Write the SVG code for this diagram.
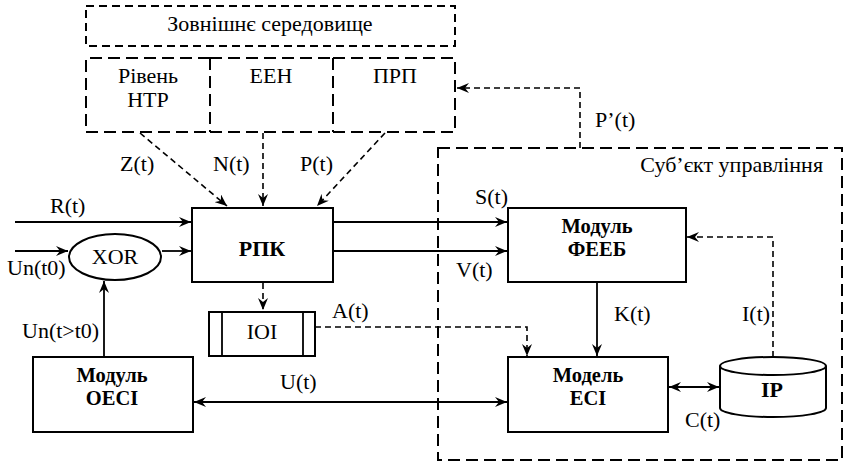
<svg xmlns="http://www.w3.org/2000/svg" width="846" height="463" viewBox="0 0 846 463">
<style>
text{font-family:"Liberation Serif","Times New Roman",serif;font-size:22px;fill:#000;}
.b{font-weight:bold;}
.b2{font-weight:bold;font-size:20.5px;}
.box{fill:#fff;stroke:#000;stroke-width:2;}
.dbox{fill:none;stroke:#000;stroke-width:2;stroke-dasharray:12,6;}
.sbox{fill:none;stroke:#000;stroke-width:2;stroke-dasharray:8,5;}
.ln{fill:none;stroke:#000;stroke-width:1.8;}
.dl{fill:none;stroke:#000;stroke-width:1.6;stroke-dasharray:6,4;}
</style>
<defs>
<marker id="ah" viewBox="0 0 12 10" refX="12" refY="5" markerWidth="12" markerHeight="10" markerUnits="userSpaceOnUse" orient="auto-start-reverse">
<path d="M0,0 L12,5 L0,10 L4,5 z" fill="#000"/>
</marker>
</defs>
<rect width="846" height="463" fill="#fff"/>

<g id="env">
<rect class="sbox" x="86" y="6" width="369" height="40"/>
<text x="270" y="31" text-anchor="middle">Зовнішнє середовище</text>
</g>
<g id="ntr">
<path class="dbox" d="M210,58 H86 V132 H210"/>
<text x="148" y="83" text-anchor="middle">Рівень</text>
<text x="148" y="107" text-anchor="middle">НТР</text>
</g>
<g id="een">
<path class="dbox" d="M210,58 H333 M210,132 H333 M210,58 V132"/>
<text x="271" y="83" text-anchor="middle">ЕЕН</text>
</g>
<g id="prp">
<path class="dbox" d="M333,58 H455 V132 H333 M333,58 V132"/>
<text x="395" y="83" text-anchor="middle">ПРП</text>
</g>
<g id="subject">
<rect class="dbox" x="438" y="148" width="404" height="312"/>
<text x="823" y="172" text-anchor="end">Суб’єкт управління</text>
</g>

<g id="connectors">
<path class="dl" d="M580,148 V88 H457" marker-end="url(#ah)"/>
<path class="dl" d="M140,133 L227,206" marker-end="url(#ah)"/>
<path class="dl" d="M263,133 V206" marker-end="url(#ah)"/>
<path class="dl" d="M385,133 L317,206" marker-end="url(#ah)"/>
<path class="ln" d="M15,222 H191" marker-end="url(#ah)"/>
<path class="ln" d="M15,251 H68" marker-end="url(#ah)"/>
<path class="ln" d="M162,251 H191" marker-end="url(#ah)"/>
<path class="ln" d="M104,357 V281" marker-end="url(#ah)"/>
<path class="ln" d="M333,222 H507" marker-end="url(#ah)"/>
<path class="ln" d="M333,251 H507" marker-end="url(#ah)"/>
<path class="dl" d="M773,357 V237 H687" marker-end="url(#ah)"/>
<path class="ln" d="M597,282 V356" marker-end="url(#ah)"/>
<path class="dl" d="M263,283 V310" marker-end="url(#ah)"/>
<path class="dl" d="M315,327 H527 V356" marker-end="url(#ah)"/>
<path class="ln" d="M194,402 H507" marker-start="url(#ah)" marker-end="url(#ah)"/>
<path class="ln" d="M669,387 H719" marker-start="url(#ah)" marker-end="url(#ah)"/>
<text x="120" y="171">Z(t)</text>
<text x="213" y="171">N(t)</text>
<text x="300" y="171">P(t)</text>
<text x="595" y="127">P’(t)</text>
<text x="50" y="213">R(t)</text>
<text x="7" y="275">Un(t0)</text>
<text x="22" y="338">Un(t&gt;t0)</text>
<text x="475" y="204">S(t)</text>
<text x="456" y="277">V(t)</text>
<text x="614" y="321">K(t)</text>
<text x="742" y="321">I(t)</text>
<text x="332" y="318">A(t)</text>
<text x="280" y="389">U(t)</text>
<text x="685" y="427">C(t)</text>
</g>

<g id="xor">
<ellipse class="box" cx="115" cy="257" rx="46" ry="23"/>
<text x="115" y="264" text-anchor="middle">XOR</text>
</g>
<g id="rpk">
<rect class="box" x="192" y="208" width="141" height="74"/>
<text class="b" x="262" y="256" text-anchor="middle">РПК</text>
</g>
<g id="feeb">
<rect class="box" x="508" y="208" width="178" height="74"/>
<text class="b2" x="597" y="233" text-anchor="middle">Модуль</text>
<text class="b2" x="597" y="256" text-anchor="middle">ФЕЕБ</text>
</g>
<g id="ioi">
<rect class="box" x="209" y="312" width="106" height="44"/>
<line class="ln" x1="222" y1="312" x2="222" y2="356"/>
<line class="ln" x1="303" y1="312" x2="303" y2="356"/>
<text x="262" y="339" text-anchor="middle">IOI</text>
</g>
<g id="oeci">
<rect class="box" x="33" y="357" width="160" height="75"/>
<text class="b2" x="112" y="382" text-anchor="middle">Модуль</text>
<text class="b2" x="112" y="405" text-anchor="middle">ОЕСІ</text>
</g>
<g id="eci">
<rect class="box" x="508" y="357" width="160" height="75"/>
<text class="b2" x="588" y="382" text-anchor="middle">Модель</text>
<text class="b2" x="588" y="405" text-anchor="middle">ЕСІ</text>
</g>
<g id="ip">
<path class="box" d="M720,366 V408 A53,9 0 0 0 826,408 V366"/>
<ellipse class="box" cx="773" cy="366" rx="53" ry="9"/>
<text class="b" x="772" y="397" text-anchor="middle">IP</text>
</g>
</svg>
